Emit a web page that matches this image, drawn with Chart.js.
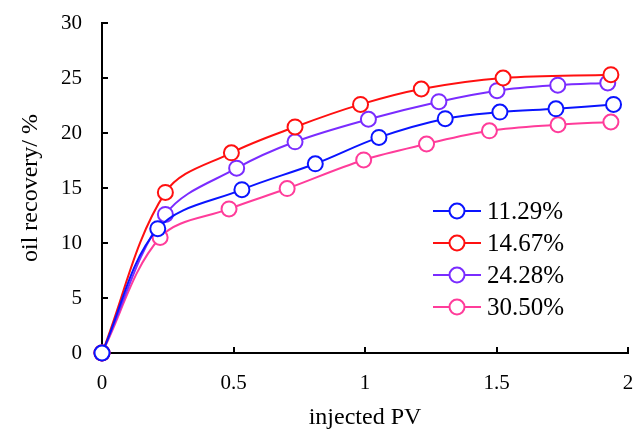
<!DOCTYPE html>
<html>
<head>
<meta charset="utf-8">
<script src="https://cdn.jsdelivr.net/npm/chart.js@4"></script>
<style>
  html, body { margin: 0; padding: 0; background: #fff; }
  #wrap { width: 642px; height: 434px; }
</style>
</head>
<body>
<div id="wrap"><canvas id="recoveryChart" width="642" height="434"></canvas></div>
<script>
// series names (legend)
const seriesNames = ['11.29%', '14.67%', '24.28%', '30.50%'];
const seriesColors = ['#0a14ff', '#ff1010', '#7a2cff', '#ff3c9a'];

// injected PV / oil recovery % for each series
const pv1129 = [0, 0.212, 0.532, 0.811, 1.053, 1.305, 1.513, 1.726, 1.945];
const rec1129 = [0, 11.3, 14.85, 17.2, 19.6, 21.3, 21.9, 22.2, 22.6];

const pv1467 = [0, 0.241, 0.492, 0.734, 0.983, 1.214, 1.525, 1.935];
const rec1467 = [0, 14.6, 18.2, 20.55, 22.6, 24.0, 25.0, 25.3];

const pv2428 = [0, 0.241, 0.512, 0.734, 1.013, 1.281, 1.502, 1.733, 1.923];
const rec2428 = [0, 12.6, 16.8, 19.2, 21.25, 22.85, 23.85, 24.35, 24.55];

const pv3050 = [0, 0.221, 0.483, 0.704, 0.995, 1.234, 1.473, 1.734, 1.935];
const rec3050 = [0, 10.5, 13.1, 14.95, 17.55, 19.0, 20.2, 20.75, 21.0];

// axis ticks
const xTicks = [0, 0.5, 1, 1.5, 2];
const yTicks = [0, 5, 10, 15, 20, 25, 30];

const pvSets = [pv1129, pv1467, pv2428, pv3050];
const recSets = [rec1129, rec1467, rec2428, rec3050];

const serif = "'Liberation Serif', 'Times New Roman', serif";

const datasets = seriesNames.map(function(name, i) {
    return {
        label: name,
        data: pvSets[i].map(function(x, j) { return { x: x, y: recSets[i][j] }; }),
        borderColor: seriesColors[i],
        backgroundColor: '#ffffff',
        pointBackgroundColor: '#ffffff',
        pointBorderColor: seriesColors[i],
        pointBorderWidth: 2,
        pointRadius: 7.5,
        borderWidth: 2,
        tension: 0.35,
        clip: false
    };
});

// tick marks pointing into the plot
const innerTicks = {
    id: 'innerTicks',
    beforeDatasetsDraw(chart) {
        const ctx = chart.ctx;
        const xs = chart.scales.x;
        const ys = chart.scales.y;
        const area = chart.chartArea;
        ctx.save();
        ctx.strokeStyle = '#000';
        ctx.lineWidth = 2;
        ctx.beginPath();
        xTicks.forEach(function(v) {
            if (v === 0) return;
            const px = Math.round(xs.getPixelForValue(v));
            ctx.moveTo(px, area.bottom);
            ctx.lineTo(px, area.bottom - 6);
        });
        yTicks.forEach(function(v) {
            if (v === 0) return;
            const py = Math.round(ys.getPixelForValue(v));
            ctx.moveTo(area.left, py);
            ctx.lineTo(area.left + 6, py);
        });
        ctx.stroke();
        ctx.restore();
    }
};

// legend drawn inside the plot, lower right
const innerLegend = {
    id: 'innerLegend',
    afterDatasetsDraw(chart) {
        const ctx = chart.ctx;
        const area = chart.chartArea;
        const x0 = area.left + 331;
        const y0 = area.top + 188;
        const rowH = 32;
        ctx.save();
        ctx.font = '25px ' + serif;
        ctx.textBaseline = 'middle';
        chart.data.datasets.forEach(function(ds, i) {
            const y = y0 + i * rowH;
            ctx.strokeStyle = ds.borderColor;
            ctx.lineWidth = 2;
            ctx.beginPath();
            ctx.moveTo(x0, y);
            ctx.lineTo(x0 + 48, y);
            ctx.stroke();
            ctx.beginPath();
            ctx.arc(x0 + 24, y, 7.5, 0, Math.PI * 2);
            ctx.fillStyle = '#fff';
            ctx.fill();
            ctx.stroke();
            ctx.fillStyle = '#000';
            ctx.fillText(ds.label, x0 + 54, y + 1);
        });
        ctx.restore();
    }
};

new Chart(document.getElementById('recoveryChart'), {
    type: 'line',
    data: { datasets: datasets },
    plugins: [innerTicks, innerLegend],
    options: {
        responsive: false,
        animation: false,
        layout: { padding: { left: 0, right: 14, top: 23, bottom: 0 } },
        plugins: {
            legend: { display: false },
            tooltip: { enabled: false }
        },
        scales: {
            x: {
                type: 'linear',
                min: 0,
                max: 2,
                afterBuildTicks: function(axis) { axis.ticks = xTicks.map(function(v) { return { value: v }; }); },
                afterFit: function(axis) {
                    axis.height = 81;
                    axis.paddingLeft = 0;
                    axis.paddingRight = 0;
                },
                border: { color: '#000', width: 2 },
                grid: { drawOnChartArea: false, drawTicks: false },
                ticks: {
                    color: '#000',
                    font: { family: serif, size: 21 },
                    padding: 18,
                    maxRotation: 0,
                    callback: function(v) { return String(v); }
                },
                title: {
                    display: true,
                    text: 'injected PV',
                    color: '#000',
                    font: { family: serif, size: 24 },
                    padding: { top: 4, bottom: 2 }
                }
            },
            y: {
                min: 0,
                max: 30,
                afterBuildTicks: function(axis) { axis.ticks = yTicks.map(function(v) { return { value: v }; }); },
                afterFit: function(axis) {
                    axis.width = 102;
                    axis.paddingTop = 0;
                    axis.paddingBottom = 0;
                },
                border: { color: '#000', width: 2 },
                grid: { drawOnChartArea: false, drawTicks: false },
                ticks: {
                    color: '#000',
                    font: { family: serif, size: 21 },
                    padding: 20
                },
                title: {
                    display: true,
                    text: 'oil recovery/ %',
                    color: '#000',
                    font: { family: serif, size: 24 },
                    padding: { top: 16, bottom: 0 }
                }
            }
        }
    }
});
</script>
</body>
</html>
